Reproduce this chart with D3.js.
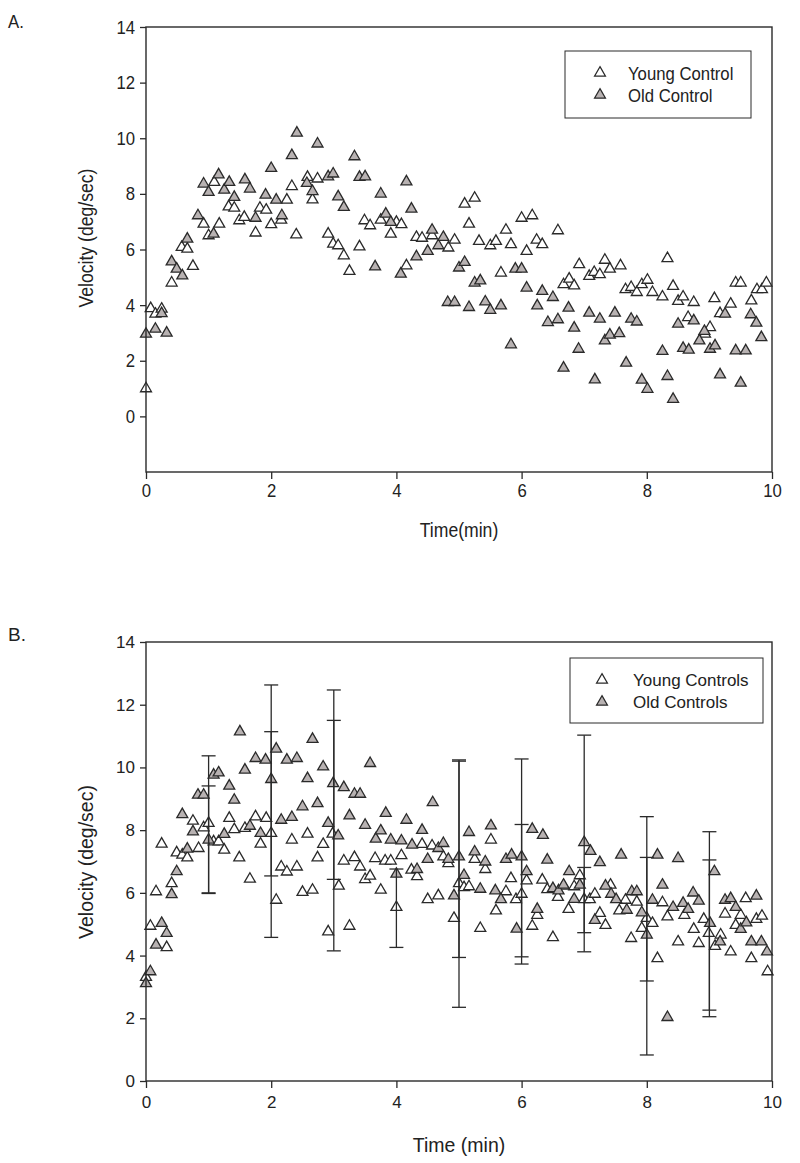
<!DOCTYPE html>
<html><head><meta charset="utf-8">
<script src="https://cdn.jsdelivr.net/npm/d3@7"></script>
<style>body{margin:0;background:#fff}</style>
</head><body><svg id="c" width="800" height="1163"></svg>
<script>
// ---- Data (time in min, velocity in deg/sec) ----
const timeTicks = [0,2,4,6,8,10];
const velTicks = [0,2,4,6,8,10,12,14];

const aYoung = [[0.0,1.0],[0.075,3.88],[0.15,3.68],[0.25,3.86],[0.41,4.80],[0.57,6.08],[0.66,6.02],[0.75,5.40],[0.92,6.92],[1.0,6.5],[1.09,8.42],[1.17,6.92],[1.32,7.54],[1.41,7.49],[1.49,7.04],[1.57,7.16],[1.75,6.6],[1.82,7.49],[1.92,7.42],[2.0,6.9],[2.16,7.06],[2.25,7.78],[2.33,8.27],[2.4,6.53],[2.58,8.6],[2.66,7.79],[2.74,8.54],[2.91,6.56],[2.99,6.2],[3.07,6.14],[3.16,5.78],[3.25,5.22],[3.41,6.1],[3.49,7.04],[3.58,6.86],[3.75,7.06],[3.91,6.56],[4.0,6.98],[4.08,6.9],[4.16,5.42],[4.32,6.44],[4.41,6.41],[4.57,6.5],[4.83,6.06],[4.93,6.34],[5.09,7.64],[5.16,6.92],[5.25,7.85],[5.32,6.3],[5.5,6.14],[5.59,6.3],[5.67,5.16],[5.75,6.7],[5.83,6.18],[6.0,7.13],[6.08,5.94],[6.17,7.22],[6.24,6.34],[6.33,6.18],[6.58,6.68],[6.67,4.74],[6.76,4.94],[6.84,4.7],[6.92,5.46],[7.08,5.04],[7.16,5.18],[7.25,5.1],[7.33,5.62],[7.41,5.3],[7.58,5.42],[7.66,4.56],[7.75,4.64],[7.84,4.46],[7.92,4.74],[8.01,4.9],[8.09,4.46],[8.25,4.3],[8.33,5.68],[8.42,4.68],[8.5,4.14],[8.58,4.3],[8.66,3.56],[8.75,4.1],[8.93,2.96],[9.01,3.2],[9.08,4.24],[9.17,3.7],[9.34,4.04],[9.42,4.8],[9.5,4.8],[9.67,4.16],[9.76,4.56],[9.84,4.56],[9.91,4.8]];

const aOld = [[0,2.96],[0.15,3.14],[0.25,3.7],[0.33,3.0],[0.41,5.56],[0.49,5.3],[0.58,5.06],[0.66,6.38],[0.83,7.22],[0.92,8.36],[1.0,8.06],[1.08,6.56],[1.16,8.69],[1.25,8.14],[1.33,8.42],[1.41,7.88],[1.58,8.51],[1.66,8.18],[1.75,7.13],[1.91,7.96],[2.0,8.92],[2.08,7.78],[2.17,7.22],[2.33,9.38],[2.41,10.19],[2.57,8.38],[2.66,8.09],[2.74,9.8],[2.91,8.62],[2.99,8.72],[3.07,7.9],[3.16,7.52],[3.33,9.34],[3.41,8.6],[3.5,8.62],[3.66,5.38],[3.75,8.0],[3.83,7.28],[3.91,6.98],[4.07,5.12],[4.16,8.44],[4.24,7.46],[4.32,5.74],[4.5,5.94],[4.57,6.7],[4.67,6.14],[4.75,6.44],[4.82,4.1],[4.93,4.1],[5.0,5.34],[5.09,5.54],[5.16,3.92],[5.25,4.8],[5.34,4.88],[5.42,4.12],[5.5,3.82],[5.67,3.98],[5.83,2.58],[5.9,5.3],[6.0,5.3],[6.08,4.62],[6.25,3.98],[6.33,4.5],[6.42,3.38],[6.5,4.28],[6.58,3.48],[6.67,1.74],[6.75,3.9],[6.84,3.18],[6.91,2.42],[7.08,3.72],[7.17,1.32],[7.25,3.5],[7.33,2.72],[7.41,2.93],[7.49,3.72],[7.56,2.98],[7.67,1.92],[7.75,3.5],[7.84,3.4],[7.92,1.31],[8.01,0.98],[8.25,2.34],[8.33,1.44],[8.42,0.62],[8.5,3.32],[8.58,2.45],[8.67,2.39],[8.75,3.44],[8.84,2.72],[8.92,3.06],[9.01,2.42],[9.09,2.54],[9.17,1.5],[9.25,3.68],[9.42,2.36],[9.5,1.2],[9.58,2.36],[9.66,3.66],[9.75,3.36],[9.83,2.84]];

const bYoung = [[0,3.31],[0.07,4.94],[0.16,6.04],[0.25,7.56],[0.33,4.26],[0.41,6.3],[0.49,7.28],[0.58,7.21],[0.66,7.12],[0.75,8.29],[0.84,7.42],[0.92,8.08],[1.0,8.22],[1.08,7.63],[1.16,7.63],[1.25,7.37],[1.33,8.38],[1.41,8.02],[1.49,7.12],[1.58,8.06],[1.66,6.44],[1.75,8.43],[1.83,7.56],[1.92,8.38],[2.0,7.9],[2.08,5.77],[2.16,6.83],[2.25,6.67],[2.33,7.69],[2.41,6.83],[2.5,6.02],[2.58,7.88],[2.66,6.09],[2.74,7.12],[2.83,7.55],[2.91,4.76],[2.98,7.88],[3.08,6.22],[3.16,7.02],[3.25,4.94],[3.33,7.13],[3.42,6.83],[3.5,6.43],[3.58,6.54],[3.66,7.1],[3.75,6.09],[3.82,7.02],[3.91,7.02],[4.0,5.54],[4.08,7.19],[4.24,6.73],[4.33,6.52],[4.41,7.55],[4.5,5.79],[4.57,7.5],[4.67,5.91],[4.75,7.15],[4.83,6.94],[4.92,5.19],[5.0,6.3],[5.08,6.17],[5.16,6.2],[5.25,7.07],[5.34,4.87],[5.42,6.75],[5.51,7.69],[5.59,5.43],[5.75,6.04],[5.83,6.46],[5.91,5.79],[6.0,5.96],[6.08,6.39],[6.17,4.94],[6.25,5.29],[6.33,6.41],[6.41,6.11],[6.5,4.58],[6.58,5.86],[6.67,6.22],[6.75,5.48],[6.84,6.2],[6.93,6.55],[7.0,5.79],[7.09,5.79],[7.17,5.96],[7.25,5.35],[7.34,4.97],[7.42,6.25],[7.56,5.43],[7.66,5.77],[7.75,4.55],[7.84,5.71],[7.92,4.87],[8.0,5.19],[8.09,5.03],[8.17,3.91],[8.25,5.69],[8.33,5.24],[8.5,4.44],[8.6,5.29],[8.75,4.84],[8.83,4.39],[8.91,5.16],[8.99,4.71],[9.09,4.3],[9.18,4.66],[9.25,5.33],[9.34,4.12],[9.42,4.97],[9.5,5.29],[9.58,5.82],[9.67,3.91],[9.75,5.16],[9.84,5.26],[9.93,3.49]];

const bOld = [[0,3.11],[0.07,3.49],[0.16,4.34],[0.25,5.03],[0.33,4.71],[0.41,5.95],[0.49,6.68],[0.58,8.5],[0.66,7.4],[0.75,7.95],[0.83,9.12],[0.92,9.12],[1.0,7.69],[1.08,9.76],[1.16,9.83],[1.25,7.87],[1.33,9.41],[1.41,8.96],[1.5,11.14],[1.58,9.92],[1.66,8.13],[1.75,10.29],[1.83,7.9],[1.91,10.24],[2.0,9.62],[2.08,10.59],[2.16,8.32],[2.25,10.24],[2.33,8.41],[2.41,10.29],[2.5,8.75],[2.58,9.65],[2.66,10.9],[2.74,8.85],[2.83,10.02],[2.91,8.22],[2.99,9.49],[3.07,7.82],[3.16,9.36],[3.25,8.46],[3.33,9.15],[3.42,9.15],[3.5,8.16],[3.58,10.13],[3.67,7.72],[3.75,7.98],[3.83,8.54],[3.91,7.69],[4.0,6.6],[4.08,7.66],[4.16,8.32],[4.25,7.53],[4.33,6.75],[4.41,8.0],[4.5,7.07],[4.58,8.88],[4.67,7.42],[4.75,7.58],[4.83,7.07],[4.92,5.91],[5.0,7.15],[5.08,6.56],[5.16,7.93],[5.25,7.31],[5.34,6.12],[5.42,6.99],[5.51,8.14],[5.58,6.07],[5.67,5.79],[5.75,7.07],[5.84,7.21],[5.92,4.85],[6.0,7.15],[6.08,6.68],[6.17,8.03],[6.25,5.48],[6.34,7.84],[6.41,7.05],[6.5,6.14],[6.59,6.07],[6.67,6.25],[6.76,6.68],[6.84,5.8],[6.93,6.25],[7.0,7.61],[7.1,7.33],[7.17,5.13],[7.25,6.97],[7.34,6.22],[7.43,5.96],[7.51,5.79],[7.59,7.21],[7.68,5.45],[7.76,6.04],[7.84,6.04],[7.92,5.37],[8.0,4.66],[8.09,5.77],[8.17,7.21],[8.25,6.25],[8.33,2.03],[8.42,5.54],[8.5,7.1],[8.58,5.67],[8.66,5.48],[8.74,6.0],[8.83,5.74],[9.01,5.03],[9.08,6.68],[9.17,4.44],[9.25,5.77],[9.34,5.82],[9.42,5.54],[9.5,4.84],[9.59,5.05],[9.67,4.44],[9.75,5.9],[9.83,4.44],[9.92,4.12]];

// error bars in panel B: [time, low, high]
const bErrorBars = [[1,5.98,10.37],[1,6.0,9.41],[2,6.54,12.63],[2,4.58,11.14],[3,6.43,12.47],[3,4.15,11.5],[4,4.26,6.76],[5,3.94,10.24],[5,2.35,10.2],[6,3.96,10.27],[6,3.73,8.18],[7,4.12,11.03],[7,4.73,6.81],[8,0.83,8.43],[8,3.19,7.13],[9,2.05,7.95],[9,2.26,7.05]];

const legendA = ["Young Control","Old Control"];
const legendB = ["Young Controls","Old Controls"];

// ---- Drawing ----
const svg = d3.select('#c');
const INK = '#2a2a2a';
const GRAY = '#b8b2b2';
const tri = d3.symbol().type(d3.symbolTriangle).size(52)();

function squeeze(sel, k){
  if (k === 1) return;
  sel.each(function(){
    const w = this.getComputedTextLength();
    d3.select(this).attr('textLength', w*k).attr('lengthAdjust','spacingAndGlyphs');
  });
}

function panel(o){
  const g = svg.append('g').style('font-family', o.font);
  const x = d3.scaleLinear().domain([0,10]).range([146,772]);
  const y = d3.scaleLinear().domain(o.yDomain).range(o.yRange);
  const top = y(o.yDomain[1]), bot = y(o.yDomain[0]);

  // points
  const pts = g.append('g');
  [[o.young,'#fff'],[o.old,GRAY]].forEach(([data,fill])=>{
    pts.selectAll(null).data(data).enter().append('path')
      .attr('d', tri)
      .attr('transform', d=>`translate(${x(d[0])},${y(d[1])})`)
      .attr('fill', fill).attr('stroke', INK).attr('stroke-width', 1.3);
  });

  // error bars
  if (o.err){
    const eb = g.append('g').attr('stroke', INK).attr('stroke-width',1.3);
    o.err.forEach(d=>{
      eb.append('line').attr('x1',x(d[0])).attr('x2',x(d[0])).attr('y1',y(d[1])).attr('y2',y(d[2]));
      [d[1],d[2]].forEach(v=>eb.append('line').attr('x1',x(d[0])-7).attr('x2',x(d[0])+7).attr('y1',y(v)).attr('y2',y(v)));
    });
  }

  // frame
  g.append('rect').attr('x',146).attr('y',top).attr('width',626).attr('height',bot-top)
    .attr('fill','none').attr('stroke',INK).attr('stroke-width',1.4);

  // axes
  const ax = g.append('g').attr('transform',`translate(0,${bot})`)
    .call(d3.axisBottom(x).tickValues(timeTicks).tickSize(7).tickPadding(o.xPad).tickFormat(d3.format('d')));
  const ay = g.append('g').attr('transform','translate(146,0)')
    .call(d3.axisLeft(y).tickValues(velTicks).tickSize(6).tickPadding(5).tickFormat(d3.format('d')));
  [ax,ay].forEach(a=>{
    a.select('.domain').remove();
    a.selectAll('line').attr('stroke',INK).attr('stroke-width',1.3);
    const t = a.selectAll('text').attr('fill','#222').style('font-size',o.tickSize+'px').style('font-family',o.font);
    squeeze(t, o.squeeze);
  });

  // titles
  const tx = g.append('text').attr('x',459).attr('y',o.xTitleY).attr('text-anchor','middle')
    .style('font-size',o.titleSize+'px').attr('fill','#222').text(o.xTitle);
  const ty = g.append('text').attr('transform',`translate(${o.yTitleX},${o.yTitleY}) rotate(-90)`)
    .attr('text-anchor','middle').style('font-size',o.titleSize+'px').attr('fill','#222').text('Velocity (deg/sec)');
  const tl = g.append('text').attr('x',8).attr('y',o.labelY).style('font-size',o.labelSize+'px').attr('fill','#222').text(o.label);
  squeeze(tx, o.squeeze); squeeze(ty, o.squeeze); squeeze(tl, o.squeeze);

  // legend
  const L = o.legend;
  g.append('rect').attr('x',L.x0).attr('y',L.y0).attr('width',L.x1-L.x0).attr('height',L.y1-L.y0)
    .attr('fill','#fff').attr('stroke',INK).attr('stroke-width',1);
  o.legendText.forEach((t,i)=>{
    const yy = L.rowY[i];
    g.append('path').attr('d',tri).attr('transform',`translate(${L.mx},${yy})`)
      .attr('fill', i===0?'#fff':GRAY).attr('stroke',INK).attr('stroke-width',1.2);
    const lt = g.append('text').attr('x',L.tx).attr('y',yy).attr('dy','0.35em').style('font-size',o.legendSize+'px')
      .attr('fill','#222').text(t);
    squeeze(lt, o.squeeze);
  });
}

panel({
  font:"'Liberation Sans',Arial,sans-serif", squeeze:0.88,
  yDomain:[-2,14], yRange:[472,27],
  young:aYoung, old:aOld,
  tickSize:19, titleSize:20, legendSize:19, labelSize:19, xPad:5,
  xTitle:'Time(min)', xTitleY:537, yTitleX:93, yTitleY:238, label:'A.', labelY:28,
  legendText:legendA,
  legend:{x0:565,y0:51,x1:751,y1:118,mx:600,tx:628,rowY:[73,95]}
});
panel({
  font:"'Liberation Sans',Arial,sans-serif", squeeze:1,
  yDomain:[0,14], yRange:[1081,642],
  young:bYoung, old:bOld, err:bErrorBars,
  tickSize:17, titleSize:19.5, legendSize:17, labelSize:19, xPad:8,
  xTitle:'Time (min)', xTitleY:1152, yTitleX:93, yTitleY:862, label:'B.', labelY:641,
  legendText:legendB,
  legend:{x0:570,y0:658,x1:763,y1:723,mx:602,tx:633,rowY:[680,702]}
});
</script>
</body></html>
